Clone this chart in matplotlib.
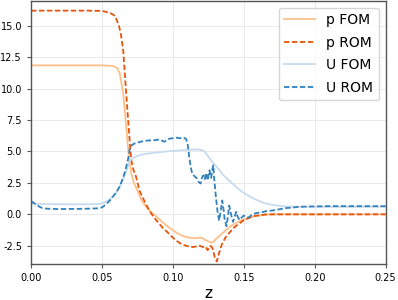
import numpy as np
import matplotlib
matplotlib.use("Agg")
import matplotlib.pyplot as plt

# p FOM
pf_x = [0, 0.02, 0.04, 0.05, 0.054, 0.057, 0.059, 0.061, 0.0625, 0.0635, 0.065, 0.066, 0.0675, 0.069,
        0.0707, 0.0722, 0.074, 0.078, 0.080, 0.083, 0.086, 0.089, 0.092, 0.095, 0.098, 0.101,
        0.104, 0.107, 0.110, 0.113, 0.116, 0.119, 0.121, 0.123, 0.125, 0.127, 0.1285, 0.130, 0.1325,
        0.135, 0.138, 0.142, 0.146, 0.150, 0.155, 0.160, 0.165, 0.17, 0.2, 0.25]
pf_y = [11.85, 11.85, 11.85, 11.85, 11.83, 11.8, 11.75, 11.6, 11.2, 10.6, 9.6, 8.3, 6.4, 4.5,
        3.25, 2.6, 2.15, 1.1, 0.75, 0.35, 0.05, -0.25, -0.55, -0.85, -1.1, -1.35,
        -1.55, -1.72, -1.82, -1.88, -1.9, -1.85, -1.9, -2.05, -2.15, -2.25, -2.2, -2.0, -1.75,
        -1.5, -1.2, -0.85, -0.6, -0.4, -0.22, -0.1, -0.04, 0.0, 0.0, 0.0]

# p ROM
pr_x = [0, 0.01, 0.02, 0.03, 0.04, 0.05, 0.053, 0.056, 0.0592, 0.062, 0.0635, 0.065, 0.0666,
        0.0683, 0.0697, 0.0707, 0.072, 0.074, 0.0764, 0.078, 0.081, 0.084, 0.087, 0.090,
        0.093, 0.096, 0.099, 0.102, 0.105, 0.108, 0.111, 0.114, 0.117, 0.119, 0.121, 0.123, 0.1245,
        0.1265, 0.128, 0.1295, 0.131, 0.1325, 0.1345, 0.137, 0.1425, 0.1495, 0.1565, 0.166, 0.18,
        0.2, 0.22, 0.25]
pr_y = [16.2, 16.2, 16.2, 16.2, 16.2, 16.18, 16.1, 16.0, 15.8, 15.0, 14.2, 13.0, 10.4,
        7.7, 5.6, 4.3, 3.6, 3.0, 1.9, 1.5, 0.8, 0.2, -0.3, -0.7,
        -1.1, -1.4, -1.75, -2.05, -2.3, -2.45, -2.55, -2.6, -2.55, -2.5, -2.6, -2.55, -2.85,
        -2.5, -2.7, -3.4, -3.75, -3.1, -2.4, -1.85, -1.1, -0.5, -0.15, 0.0, 0.0,
        0.0, 0.0, 0.0]

# U FOM
uf_x = [0, 0.005, 0.02, 0.04, 0.048, 0.052, 0.055, 0.058, 0.060, 0.062, 0.064, 0.066, 0.068, 0.069,
        0.0697, 0.0705, 0.0715, 0.074, 0.077, 0.080, 0.083, 0.087, 0.091, 0.095, 0.099, 0.103, 0.107,
        0.111, 0.115, 0.118, 0.121, 0.123, 0.125, 0.127, 0.129, 0.131, 0.133, 0.135, 0.138, 0.141,
        0.144, 0.147, 0.150, 0.153, 0.156, 0.159, 0.162, 0.165, 0.168, 0.172, 0.176, 0.18, 0.19,
        0.2, 0.25]
uf_y = [0.85, 0.82, 0.8, 0.8, 0.82, 0.95, 1.15, 1.45, 1.7, 2.1, 2.6, 3.1, 3.7, 4.1,
        4.3, 4.35, 4.45, 4.6, 4.72, 4.8, 4.85, 4.9, 4.95, 5.0, 5.03, 5.07, 5.1,
        5.12, 5.15, 5.15, 5.1, 4.9, 4.6, 4.3, 4.0, 3.75, 3.5, 3.2, 2.85, 2.55,
        2.25, 1.95, 1.7, 1.5, 1.3, 1.15, 1.0, 0.88, 0.8, 0.72, 0.66, 0.62, 0.6,
        0.6, 0.6]

# U ROM
ur_x = [0, 0.002, 0.004, 0.006, 0.008, 0.011, 0.02, 0.03, 0.04, 0.046, 0.05, 0.053, 0.0555, 0.058,
        0.060, 0.0625, 0.065, 0.0665, 0.068, 0.069, 0.0697, 0.0716, 0.0733, 0.0765, 0.080, 0.0835,
        0.087, 0.0905, 0.0925, 0.094, 0.0960, 0.0975, 0.100, 0.1025, 0.105, 0.1075, 0.1093, 0.1105,
        0.1115, 0.1125, 0.1136, 0.1155, 0.117, 0.118, 0.1195, 0.1205, 0.1215, 0.1225, 0.1235, 0.1245,
        0.1258, 0.127, 0.128, 0.1285, 0.129, 0.1303, 0.1315, 0.1326, 0.1340, 0.1348, 0.1358, 0.1365,
        0.1378, 0.1390, 0.1397, 0.141, 0.1424, 0.1435, 0.1446, 0.1457, 0.1470, 0.1485, 0.150, 0.1515,
        0.1535, 0.1555, 0.1586, 0.162, 0.1657, 0.170, 0.175, 0.18, 0.185, 0.189, 0.195, 0.21, 0.25]
ur_y = [1.05, 0.9, 0.75, 0.6, 0.5, 0.45, 0.42, 0.43, 0.45, 0.47, 0.55, 0.8, 1.1, 1.45,
        1.75, 2.2, 2.95, 3.5, 4.2, 4.7, 5.35, 5.55, 5.65, 5.75, 5.85, 5.88,
        5.9, 5.95, 5.85, 5.78, 5.9, 6.02, 6.05, 6.1, 6.05, 6.1, 6.0, 5.5,
        4.6, 3.8, 3.25, 3.0, 2.85, 2.6, 2.45, 2.9, 3.1, 2.8, 3.3, 2.7,
        3.5, 2.9, 3.7, 3.9, 3.0, 1.4, 0.2, -0.5, 0.5, 1.1, 0.3, -0.4,
        -0.95, 0.0, 0.7, 0.0, -0.6, -0.2, 0.2, -0.2, -0.45, -0.25, -0.1, -0.2,
        -0.25, -0.05, 0.1, 0.15, 0.25, 0.3, 0.4, 0.5, 0.55, 0.6, 0.62, 0.65, 0.65]

labels = ["p FOM", "p ROM", "U FOM", "U ROM"]
xticks = [0.00, 0.05, 0.10, 0.15, 0.20, 0.25]
yticks = [-2.5, 0.0, 2.5, 5.0, 7.5, 10.0, 12.5, 15.0]

fig = plt.figure(figsize=(3.98, 3.0), dpi=100)
ax = fig.add_axes([0.078, 0.12, 0.891, 0.878])

lw = 1.3
ax.plot(pf_x, pf_y, color="#fdc08a", lw=lw, label=labels[0])
ax.plot(pr_x, pr_y, color="#e6550d", lw=lw, dashes=(3.0, 1.4), label=labels[1])
ax.plot(uf_x, uf_y, color="#c6dbef", lw=lw, label=labels[2])
ax.plot(ur_x, ur_y, color="#3182bd", lw=lw, dashes=(3.0, 1.4), label=labels[3])

ax.set_xlim(0, 0.25)
ax.set_ylim(-3.95, 17.0)
ax.set_xticks(xticks)
ax.set_yticks(yticks)
ax.set_xticklabels([f"{v:.2f}" for v in xticks])
ax.set_yticklabels([f"{v:.1f}" for v in yticks])
ax.grid(True, color="#e6e6e6", lw=0.6)
ax.set_axisbelow(True)
ax.tick_params(labelsize=7, length=3, width=0.8, color="#555555")
for s in ax.spines.values():
    s.set_color("#555555")
    s.set_linewidth(1.0)
ax.set_xlabel("z", fontsize=11, labelpad=2)
ax.legend(loc="upper right", fontsize=10, handlelength=2.2, borderaxespad=0.5,
          labelspacing=0.62)

fig.savefig("out.png", dpi=100)
